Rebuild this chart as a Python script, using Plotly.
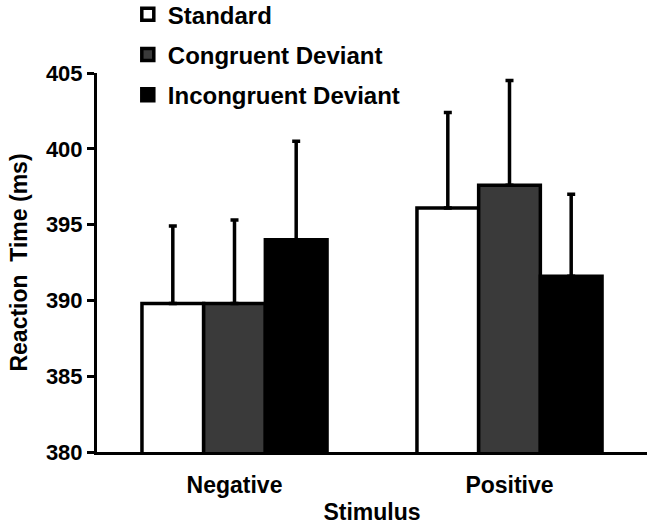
import plotly.graph_objects as go

categories = ["Negative", "Positive"]
series_names = ["Standard", "Congruent Deviant", "Incongruent Deviant"]
standard = [389.8, 396.1]
congruent = [389.8, 397.6]
incongruent = [394.0, 391.6]
standard_err = [5.1, 6.3]
congruent_err = [5.5, 6.9]
incongruent_err = [6.5, 5.4]

colors = ["#ffffff", "#3a3a3a", "#000000"]
values = [standard, congruent, incongruent]
errors = [standard_err, congruent_err, incongruent_err]

FONT = "Liberation Sans, Arial, sans-serif"

fig = go.Figure()
for i, (name, vals, errs) in enumerate(zip(series_names, values, errors)):
    fig.add_trace(go.Bar(
        name=name, x=categories, y=vals, legendgroup=name,
        marker=dict(color=colors[i], line=dict(color="black", width=3.5)),
        error_y=dict(type="data", array=errs, arrayminus=[0] * len(errs),
                     symmetric=False, color="black", thickness=3.5, width=4),
    ))

fig.update_layout(
    width=653, height=528,
    margin=dict(l=97, r=6, t=73, b=76, autoexpand=False),
    paper_bgcolor="white", plot_bgcolor="white",
    barmode="group", bargap=0.327, bargroupgap=0,
    font=dict(family=FONT, color="black", size=22, weight="bold"),
    showlegend=True,
    legend=dict(x=0.056, xanchor="left", y=1.213, yanchor="top",
                font=dict(size=24, family=FONT, weight="bold"),
                tracegroupgap=6, bgcolor="rgba(0,0,0,0)",
                itemclick=False),
    xaxis=dict(showline=True, linecolor="black", linewidth=3, ticks="",
               automargin=False, ticklabelstandoff=10,
               tickfont=dict(size=23, family=FONT, weight="bold"),
               title=dict(text="Stimulus", font=dict(size=23, family=FONT, weight="bold"),
                          standoff=8),
               showgrid=False, zeroline=False),
    yaxis=dict(range=[380, 405], dtick=5, showline=True, linecolor="black", linewidth=3,
               automargin=False,
               ticks="outside", ticklen=7, tickwidth=3, tickcolor="black",
               tickfont=dict(size=22, family=FONT, weight="bold"),
               title=dict(text="Reaction  Time (ms)", font=dict(size=23, family=FONT, weight="bold"),
                          standoff=12),
               showgrid=False, zeroline=False),
)

fig.write_html("out.html", config={"displayModeBar": False},
               post_script="document.body.style.margin='0';")
